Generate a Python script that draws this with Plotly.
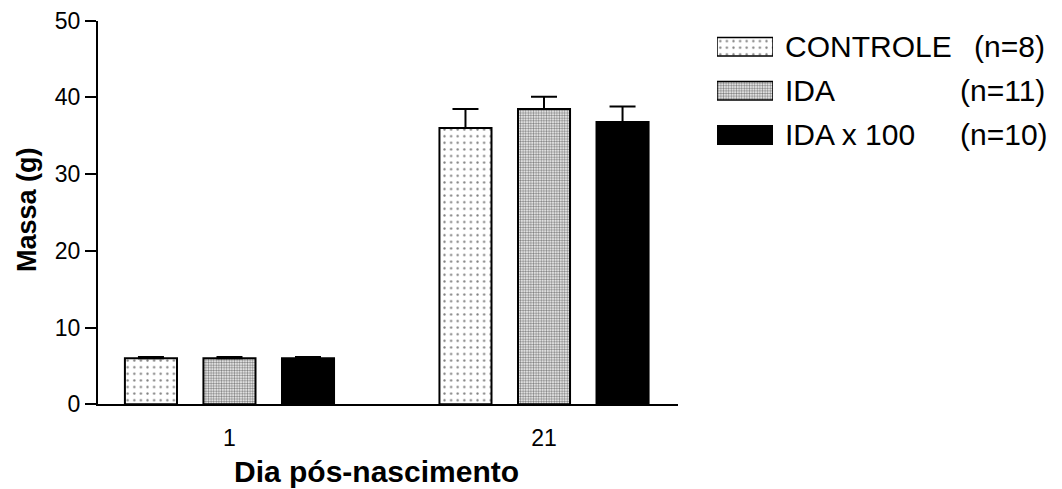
import plotly.graph_objects as go

# Body mass by post-natal day and group
days = ["1", "21"]
groups = ["CONTROLE", "IDA", "IDA x 100"]
group_n = ["(n=8)", "(n=11)", "(n=10)"]
mass_mean = {
    "CONTROLE": [6.0, 36.0],
    "IDA": [6.0, 38.5],
    "IDA x 100": [6.0, 36.8],
}
mass_sem = {
    "CONTROLE": [0.15, 2.5],
    "IDA": [0.15, 1.6],
    "IDA x 100": [0.15, 2.0],
}

W, H = 1062, 489
FONT = "Liberation Sans, Arial, sans-serif"

# fill styles per group: sparse dots, dense dots, solid black
styles = {
    "CONTROLE": dict(color="white", pattern=dict(shape=".", size=6.6, solidity=0.1,
                                                 fgcolor="black", bgcolor="white", fillmode="overlay")),
    "IDA": dict(color="white", pattern=dict(shape=".", size=2.6, solidity=0.5,
                                            fgcolor="black", bgcolor="white", fillmode="overlay")),
    "IDA x 100": dict(color="black"),
}

# plot area in pixels
PX_L, PX_R, PX_T, PX_B = 98, 678, 20.7, 404.2


def fx(px):
    return px / W


def fy(py):
    return 1 - py / H


fig = go.Figure()

for g in groups:
    fig.add_trace(go.Bar(
        x=days, y=mass_mean[g], name=g,
        marker=dict(line=dict(color="black", width=2), **styles[g]),
        error_y=dict(type="data", symmetric=False, array=mass_sem[g],
                     arrayminus=[0] * len(days), color="black", thickness=2, width=13),
        showlegend=False, xaxis="x", yaxis="y",
    ))

# key swatches drawn as bars on their own small axes
row_pos = list(range(len(groups)))
for i, g in enumerate(groups):
    fig.add_trace(go.Bar(
        x=[1], y=[row_pos[i]], orientation="h", width=0.42,
        marker=dict(line=dict(color="black", width=1.5), **styles[g]),
        showlegend=False, hoverinfo="skip", xaxis="x2", yaxis="y2",
    ))

annotations = []
row_px = [46.7, 90.8, 135.0]
n_px = [972, 958, 958]
for i, g in enumerate(groups):
    annotations.append(dict(text=g, x=fx(783), y=fy(row_px[i]), xref="paper", yref="paper",
                            xanchor="left", yanchor="middle", showarrow=False,
                            font=dict(family=FONT, size=30, color="black")))
    annotations.append(dict(text=group_n[i], x=fx(n_px[i]), y=fy(row_px[i]), xref="paper", yref="paper",
                            xanchor="left", yanchor="middle", showarrow=False,
                            font=dict(family=FONT, size=30, color="black")))

# axis titles
annotations.append(dict(text="<b>Dia pós-nascimento</b>", x=fx(376), y=fy(471), xref="paper", yref="paper",
                        xanchor="center", yanchor="middle", showarrow=False,
                        font=dict(family=FONT, size=30, color="black")))
annotations.append(dict(text="<b>Massa (g)</b>", x=fx(27), y=fy(210), xref="paper", yref="paper",
                        xanchor="center", yanchor="middle", showarrow=False, textangle=-90,
                        font=dict(family=FONT, size=27, color="black")))

fig.update_layout(
    width=W, height=H,
    margin=dict(l=0, r=0, t=0, b=0, pad=0, autoexpand=False),
    showlegend=False,
    paper_bgcolor="white", plot_bgcolor="white",
    barmode="group", bargap=0.251, bargroupgap=0.337,
    font=dict(family=FONT, size=23, color="black"),
    xaxis=dict(domain=[fx(PX_L), fx(PX_R)], type="category", range=[-0.418, 1.426],
               showline=True, linecolor="black", linewidth=2, ticks="", showgrid=False,
               zeroline=False, tickfont=dict(size=23), ticklabelstandoff=12,
               automargin=False, anchor="y"),
    yaxis=dict(domain=[fy(PX_B), fy(PX_T)], range=[0, 50], tickvals=[0, 10, 20, 30, 40, 50],
               showline=True, linecolor="black", linewidth=2, ticks="outside", ticklen=11,
               tickwidth=2, tickcolor="black", showgrid=False, zeroline=False,
               tickfont=dict(size=23), automargin=False, anchor="x"),
    xaxis2=dict(domain=[fx(717), fx(773)], range=[0, 1], visible=False, anchor="y2"),
    yaxis2=dict(domain=[fy(row_px[2] + 22.1), fy(row_px[0] - 22.1)], range=[2.5, -0.5],
                visible=False, anchor="x2"),
    annotations=annotations,
)

fig.write_html("out.html")
